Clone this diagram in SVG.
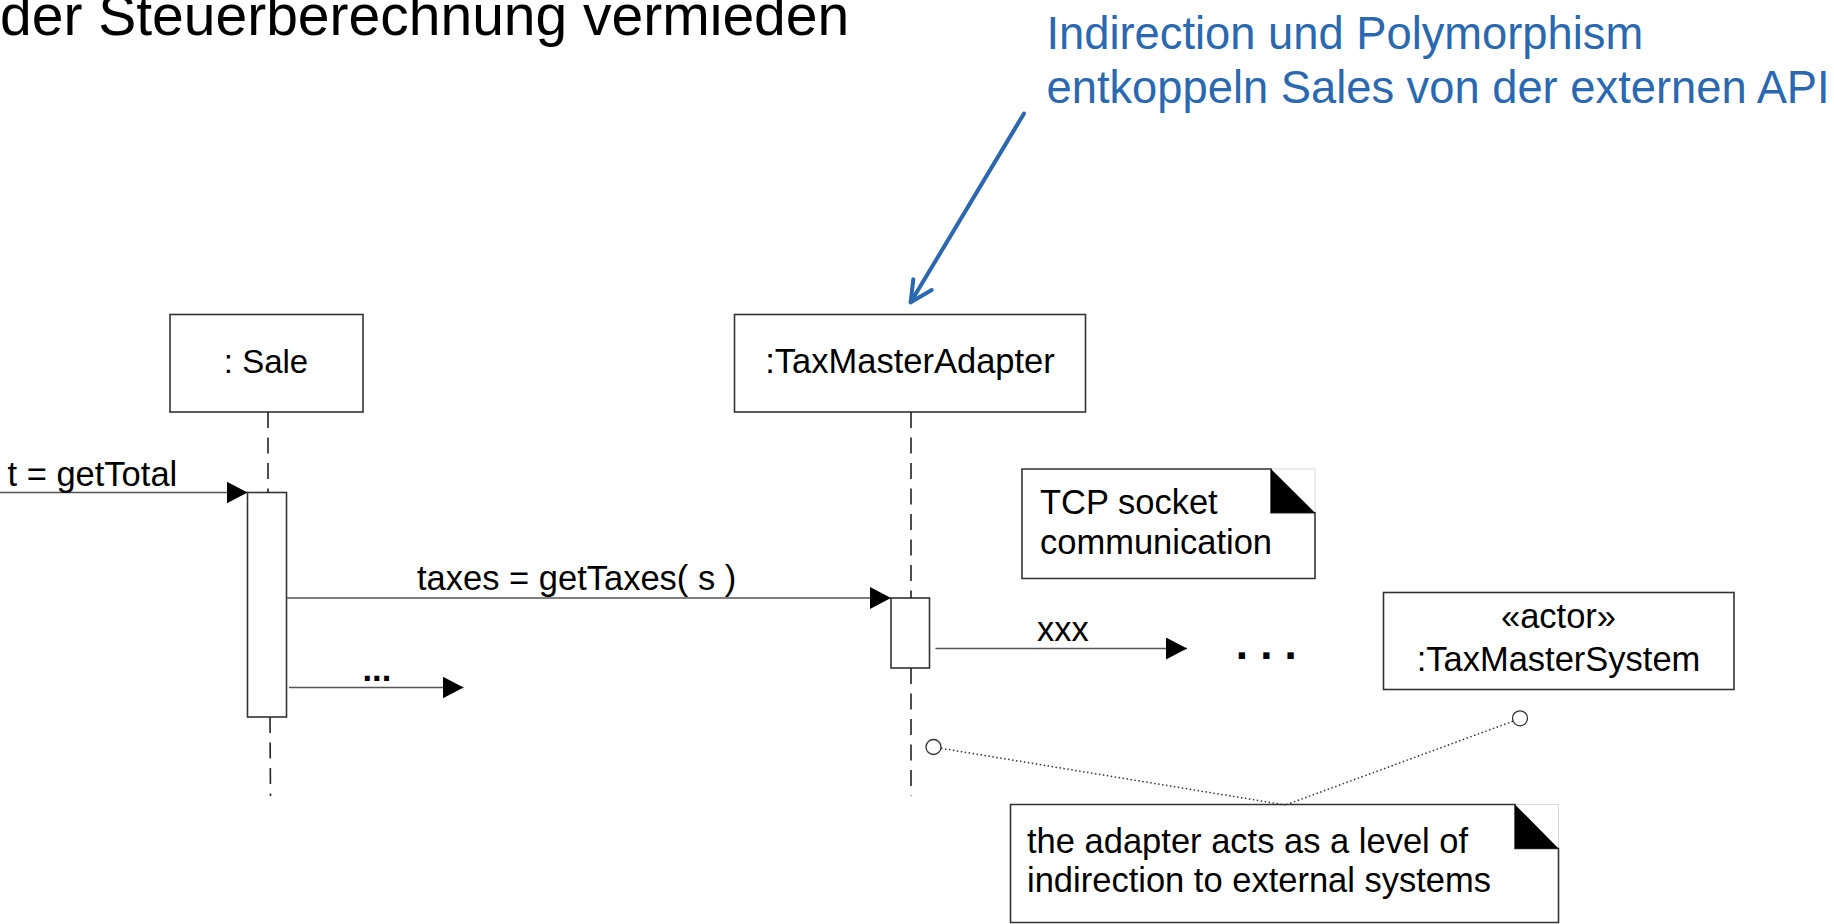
<svg xmlns="http://www.w3.org/2000/svg" width="1834" height="924" viewBox="0 0 1834 924">
<style>
text{font-family:"Liberation Sans",Arial,Helvetica,sans-serif;fill:#000}
.lbl{font-size:34.5px}
.blue{fill:#2a68b0;font-size:45.3px}
.box{fill:#fff;stroke:#333;stroke-width:1.6}
.life{stroke:#222;stroke-width:1.6;stroke-dasharray:16 9.5;fill:none}
.msg{stroke:#555;stroke-width:1.6;fill:none;marker-end:url(#tri)}
.dot{stroke:#333;stroke-width:1.5;stroke-dasharray:1.5 2.5;fill:none}
.fold{fill:#000}
.ghost{stroke:#d8d8d8;stroke-width:1;fill:none}
</style>
<defs>
<marker id="tri" markerUnits="userSpaceOnUse" markerWidth="22" markerHeight="23" refX="21" refY="11" orient="auto">
<path d="M0,0 L21,11 L0,22 Z" fill="#000"/>
</marker>
</defs>
<rect width="1834" height="924" fill="#fff"/>

<g id="title">
<text x="0" y="35" style="font-size:57px">der Steuerberechnung vermieden</text>
</g>

<g id="comment">
<text class="blue" x="1046.5" y="49">Indirection und Polymorphism</text>
<text class="blue" x="1046.5" y="103">entkoppeln Sales von der externen API</text>
</g>

<g id="sale">
<rect class="box" x="170" y="314.5" width="193" height="97.5"/>
<text x="266" y="373" text-anchor="middle" style="font-size:33px">: Sale</text>
</g>

<g id="adapter">
<rect class="box" x="734.5" y="314.5" width="351" height="97.5"/>
<text class="lbl" x="910" y="373" text-anchor="middle">:TaxMasterAdapter</text>
</g>

<g id="taxmastersystem">
<rect class="box" x="1383.5" y="592.5" width="350.5" height="97"/>
<text class="lbl" x="1558.5" y="628" text-anchor="middle">«actor»</text>
<text class="lbl" x="1558.5" y="670.5" text-anchor="middle">:TaxMasterSystem</text>
</g>

<g id="note-tcp">
<path class="ghost" d="M1271,469 H1315 V512.7"/>
<path class="box" d="M1022,469 H1271 V512.7 H1315 V578.5 H1022 Z"/>
<path class="fold" d="M1271,469 L1315,512.7 H1271 Z"/>
<text class="lbl" x="1040" y="514">TCP socket</text>
<text class="lbl" x="1040" y="554">communication</text>
</g>

<g id="note-adapter">
<path class="ghost" d="M1515,804.5 H1558.5 V848.5"/>
<path class="box" d="M1010.5,804.5 H1515 V848.5 H1558.5 V922.5 H1010.5 Z"/>
<path class="fold" d="M1515,804.5 L1558.5,848.5 H1515 Z"/>
<text class="lbl" x="1027" y="852.5">the adapter acts as a level of</text>
<text class="lbl" x="1027" y="892">indirection to external systems</text>
</g>

<g id="activations">
<rect class="box" x="247.5" y="492.5" width="39" height="224.5"/>
<rect class="box" x="891" y="598" width="38.5" height="70"/>
</g>

<g id="connectors">
<line class="life" x1="268" y1="412" x2="268" y2="492.5"/>
<line class="life" x1="270" y1="717" x2="270.5" y2="796"/>
<line class="life" x1="911" y1="412" x2="911" y2="598"/>
<line class="life" x1="911" y1="668" x2="911" y2="796"/>

<line class="msg" x1="0" y1="492.5" x2="247.5" y2="492.5"/>
<text class="lbl" x="7.5" y="485.5">t = getTotal</text>

<line class="msg" x1="286.5" y1="598" x2="891" y2="598"/>
<text class="lbl" x="417" y="590">taxes = getTaxes( s )</text>

<line class="msg" x1="289" y1="687.5" x2="463.5" y2="687.5"/>
<text x="362.5" y="681" style="font-size:34.5px;font-weight:bold">...</text>

<line class="msg" x1="935.5" y1="648.5" x2="1187" y2="648.5"/>
<text class="lbl" x="1037" y="640.5">xxx</text>

<text x="1235.7" y="659.2" style="font-size:44px;font-weight:bold">. . .</text>

<circle cx="933.5" cy="747" r="7.5" fill="#fff" stroke="#333" stroke-width="1.3"/>
<circle cx="1520" cy="718.3" r="7.5" fill="#fff" stroke="#333" stroke-width="1.3"/>
<line class="dot" x1="941" y1="748.3" x2="1285.4" y2="805"/>
<line class="dot" x1="1513" y1="721.2" x2="1285.4" y2="805"/>

<g stroke="#2a68b0" stroke-width="4" stroke-linecap="round" stroke-linejoin="round" fill="none">
<line x1="1024" y1="113.5" x2="910.7" y2="302.3"/>
<path d="M913.3,279.3 L910.7,302.3 L931.7,290"/>
</g>
</g>
</svg>
